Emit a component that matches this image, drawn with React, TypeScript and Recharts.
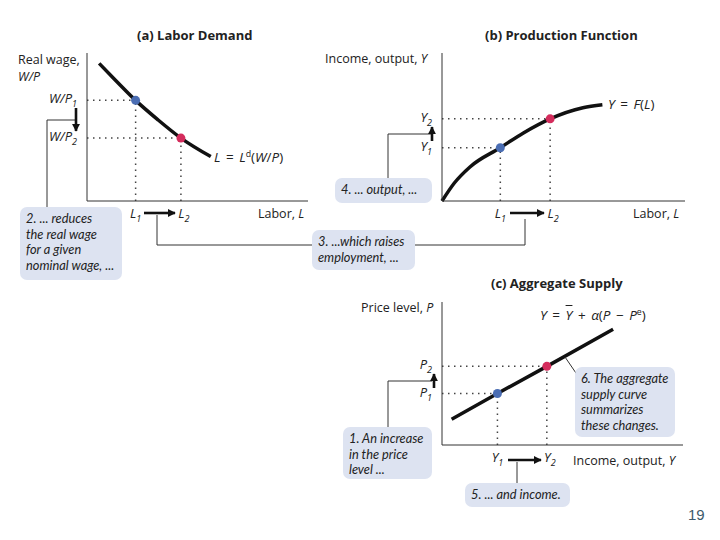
import React from "react";
import { LineChart, Line, XAxis, YAxis, ReferenceLine, ReferenceDot } from "recharts";

// (a) labour demand: labour L on x, real wage W/P on y
const demandCurve = [
  { l: 0.55, w: 9.3 },
  { l: 1.2, w: 8.3 },
  { l: 2.2, w: 6.8 },
  { l: 3.2, w: 5.5 },
  { l: 4.25, w: 4.25 },
  { l: 5.6, w: 3.0 },
];
const demandLabor = [2.2, 4.25];
const demandWage = [6.8, 4.25];

// (b) production function: labour L on x, output Y on y
const productionCurve = [
  { l: 0, y: 0 },
  { l: 0.5, y: 1.2 },
  { l: 1.15, y: 2.3 },
  { l: 2.4, y: 3.6 },
  { l: 3.35, y: 4.6 },
  { l: 4.45, y: 5.55 },
  { l: 5.8, y: 6.3 },
  { l: 6.6, y: 6.5 },
];
const productionLabor = [2.4, 4.45];
const productionOutput = [3.6, 5.55];

// (c) aggregate supply: output Y on x, price level P on y
const supplyCurve = [
  { y: 0.4, p: 1.8 },
  { y: 2.3, p: 3.6 },
  { y: 4.35, p: 5.5 },
  { y: 7.1, p: 8.1 },
];
const supplyOutput = [2.3, 4.35];
const supplyPrice = [3.6, 5.5];

// tick labels: [main, subscript]
const laborLabels = [["L", "1"], ["L", "2"]];
const wageLabels = [["W/P", "1"], ["W/P", "2"]];
const outputLabels = [["Y", "1"], ["Y", "2"]];
const priceLabels = [["P", "1"], ["P", "2"]];

const BLUE = "#4a6db3";
const RED = "#d42c5c";
const INK = "#222";
const BOX = "#dde3f1";
const FONT = "'Open Sans', Lato, sans-serif";
const NOTE_FONT = "Lato, 'Open Sans', sans-serif";

function SubTick(props: any) {
  const { x, y, payload, values, labels, axis } = props;
  const i = values.indexOf(payload.value);
  if (i < 0) return null;
  const [main, sub] = labels[i];
  const common = { fontFamily: FONT, fontStyle: "italic", fontSize: 13, fill: INK };
  if (axis === "x") {
    // first label sits on the point, second one a bit to the right of it
    return (
      <text x={x + (i === 0 ? 0 : 3)} y={y + 9} textAnchor="middle" {...common}>
        <tspan>{main}</tspan>
        <tspan dy={4} fontSize={9}>{sub}</tspan>
      </text>
    );
  }
  return (
    <text x={x - 2} y={y + 3} textAnchor="end" {...common}>
      <tspan>{main}</tspan>
      <tspan dy={4} fontSize={9}>{sub}</tspan>
    </text>
  );
}

const guide = { stroke: "#444", strokeDasharray: "1.5 4.5", strokeWidth: 1.5 };
const axisStyle = { stroke: "#333", strokeWidth: 1 };

function Panel({ data, xKey, yKey, xs, ys, xLabels, yLabels, width, height, margin, curveType }: any) {
  return (
    <LineChart width={width} height={height} data={data} margin={margin}>
      <XAxis
        type="number"
        dataKey={xKey}
        domain={[0, 10]}
        ticks={xs}
        tickLine={false}
        axisLine={axisStyle}
        height={20}
        tick={(p: any) => <SubTick {...p} values={xs} labels={xLabels} axis="x" />}
      />
      <YAxis
        type="number"
        dataKey={yKey}
        domain={[0, 10]}
        ticks={ys}
        tickLine={false}
        axisLine={axisStyle}
        width={60}
        tick={(p: any) => <SubTick {...p} values={ys} labels={yLabels} axis="y" />}
      />
      {xs.map((xv: number, i: number) => (
        <ReferenceLine key={"h" + i} segment={[{ x: 0, y: ys[i] }, { x: xv, y: ys[i] }]} {...guide} />
      ))}
      {xs.map((xv: number, i: number) => (
        <ReferenceLine key={"v" + i} segment={[{ x: xv, y: 0 }, { x: xv, y: ys[i] }]} {...guide} />
      ))}
      <Line
        type={curveType}
        dataKey={yKey}
        stroke="#111"
        strokeWidth={3.5}
        dot={false}
        activeDot={false}
        isAnimationActive={false}
      />
      {xs.map((xv: number, i: number) => (
        <ReferenceDot key={"d" + i} x={xv} y={ys[i]} r={4.5} fill={i === 0 ? BLUE : RED} stroke="none" />
      ))}
    </LineChart>
  );
}

function Txt({ left, top, children, style }: any) {
  return (
    <div
      style={{
        position: "absolute",
        left,
        top,
        fontFamily: FONT,
        fontSize: 12.5,
        lineHeight: "13px",
        color: INK,
        whiteSpace: "nowrap",
        ...style,
      }}
    >
      {children}
    </div>
  );
}

function Callout({ left, top, width, height, children }: any) {
  return (
    <div
      style={{
        position: "absolute",
        left,
        top,
        width,
        height,
        boxSizing: "border-box",
        background: BOX,
        borderRadius: 7,
        padding: "4px 6px",
        fontFamily: NOTE_FONT,
        fontStyle: "italic",
        fontSize: 12.8,
        lineHeight: "15.5px",
        color: "#222",
        whiteSpace: "nowrap",
      }}
    >
      {children}
    </div>
  );
}

const sup = { fontSize: "0.65em", verticalAlign: "super", lineHeight: 0 } as const;
const eq = { fontSize: 13.5, wordSpacing: 2 };

export default function App() {
  return (
    <div style={{ position: "absolute", left: 0, top: 0, width: 720, height: 540, background: "#fff", overflow: "hidden" }}>
      <div style={{ position: "absolute", left: 0, top: 0 }}>
        <Panel
          data={demandCurve}
          xKey="l"
          yKey="w"
          xs={demandLabor}
          ys={demandWage}
          xLabels={laborLabels}
          yLabels={wageLabels}
          width={320}
          height={230}
          margin={{ top: 53, right: 12, bottom: 9, left: 27 }}
          curveType="monotone"
        />
      </div>
      <div style={{ position: "absolute", left: 330, top: 0 }}>
        <Panel
          data={productionCurve}
          xKey="l"
          yKey="y"
          xs={productionLabor}
          ys={productionOutput}
          xLabels={laborLabels}
          yLabels={outputLabels}
          width={390}
          height={230}
          margin={{ top: 53, right: 35, bottom: 9, left: 52 }}
          curveType="monotone"
        />
      </div>
      <div style={{ position: "absolute", left: 330, top: 250 }}>
        <Panel
          data={supplyCurve}
          xKey="y"
          yKey="p"
          xs={supplyOutput}
          ys={supplyPrice}
          xLabels={outputLabels}
          yLabels={priceLabels}
          width={390}
          height={275}
          margin={{ top: 52, right: 37, bottom: 60, left: 52 }}
          curveType="linear"
        />
      </div>

      {/* connectors and shift arrows */}
      <svg width={720} height={540} style={{ position: "absolute", left: 0, top: 0, pointerEvents: "none" }}>
        <defs>
          <marker id="head" viewBox="0 0 10 10" refX="9" refY="5" markerWidth="3.2" markerHeight="3.2" orient="auto">
            <path d="M0,0 L10,5 L0,10 z" fill="#111" />
          </marker>
        </defs>
        <g fill="none" stroke="#333" strokeWidth={1}>
          <polyline points="75,120 47,120 47,207" />
          <polyline points="157,215 157,245 312,245" />
          <polyline points="415,245 525,245 525,219" />
          <polyline points="431,134 388,134 388,178" />
          <polyline points="432,381 388,381 388,427" />
          <polyline points="517,462 517,483" />
          <polyline points="578,376 565,357" />
        </g>
        <g stroke="#111" strokeWidth={2.6} markerEnd="url(#head)">
          <line x1={76} y1={108} x2={76} y2={131} />
          <line x1={144} y1={213} x2={175} y2={213} />
          <line x1={432} y1={141} x2={432} y2={127} />
          <line x1={510} y1={213} x2={544} y2={213} />
          <line x1={434} y1={388} x2={434} y2={374} />
          <line x1={508} y1={460} x2={541} y2={460} />
        </g>
      </svg>

      {/* titles */}
      <Txt left={137} top={29} style={{ fontWeight: 700, fontSize: 13 }}>(a) Labor Demand</Txt>
      <Txt left={485} top={29} style={{ fontWeight: 700, fontSize: 13 }}>(b) Production Function</Txt>
      <Txt left={491} top={277} style={{ fontWeight: 700, fontSize: 13 }}>(c) Aggregate Supply</Txt>

      {/* axis labels */}
      <Txt left={18} top={51} style={{ lineHeight: "17px" }}>Real wage,</Txt>
      <Txt left={18} top={68} style={{ lineHeight: "17px" }}><i>W/P</i></Txt>
      <Txt left={258} top={207}>Labor, <i>L</i></Txt>
      <Txt left={325} top={52}>Income, output, <i>Y</i></Txt>
      <Txt left={633} top={207}>Labor, <i>L</i></Txt>
      <Txt left={361} top={301}>Price level, <i>P</i></Txt>
      <Txt left={573} top={454}>Income, output, <i>Y</i></Txt>

      {/* curve labels */}
      <Txt left={214} top={151} style={eq}><i>L</i> = <i>L</i><span style={sup}>d</span>(<i>W</i>/<i>P</i>)</Txt>
      <Txt left={608} top={98} style={eq}><i>Y</i> = <i>F</i>(<i>L</i>)</Txt>
      <Txt left={540} top={309} style={eq}>
        <i>Y</i> = <i style={{ textDecoration: "overline" }}>Y</i> + <i>α</i>(<i>P</i> − <i>P</i><span style={sup}>e</span>)
      </Txt>

      {/* callouts */}
      <Callout left={20} top={207} width={102} height={73}>
        2. ... reduces<br />the real wage<br />for a given<br />nominal wage, ...
      </Callout>
      <Callout left={312} top={230} width={103} height={40}>
        3. ...which raises<br />employment, ...
      </Callout>
      <Callout left={335} top={178} width={97} height={25}>
        4. ... output, ...
      </Callout>
      <Callout left={343} top={427} width={89} height={52}>
        1. An increase<br />in the price<br />level ...
      </Callout>
      <Callout left={465} top={483} width={105} height={24}>
        5. ... and income.
      </Callout>
      <Callout left={575} top={367} width={100} height={70}>
        6. The aggregate<br />supply curve<br />summarizes<br />these changes.
      </Callout>

      <Txt left={688} top={508} style={{ fontFamily: "'Liberation Sans', Arial, sans-serif", fontSize: 15, color: "#3c5a6b" }}>19</Txt>
    </div>
  );
}
